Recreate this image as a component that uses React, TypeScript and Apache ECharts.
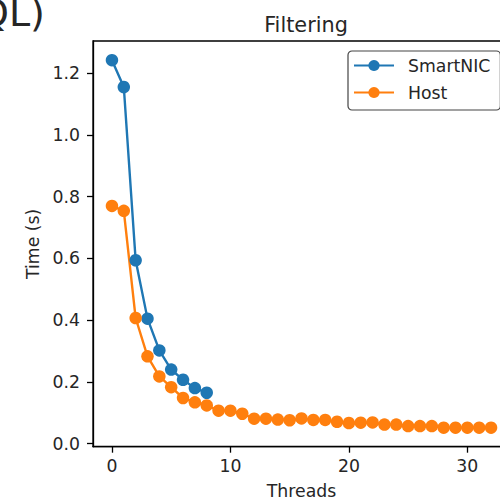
import React, { useEffect, useRef } from "react";
import * as echarts from "echarts";

const nicThreads = [0, 1, 2, 3, 4, 5, 6, 7, 8];
const nicTime = [1.242, 1.155, 0.594, 0.405, 0.302, 0.240, 0.207, 0.180, 0.165];

const hostThreads = [
  0, 1, 2, 3, 4, 5, 6, 7, 8, 9, 10, 11, 12, 13, 14, 15, 16, 17, 18, 19, 20,
  21, 22, 23, 24, 25, 26, 27, 28, 29, 30, 31, 32,
];
const hostTime = [
  0.770, 0.754, 0.407, 0.283, 0.218, 0.183, 0.148, 0.134, 0.124, 0.107, 0.107,
  0.097, 0.081, 0.081, 0.078, 0.076, 0.082, 0.077, 0.077, 0.071, 0.067, 0.068,
  0.069, 0.062, 0.062, 0.057, 0.057, 0.057, 0.052, 0.052, 0.052, 0.052, 0.052,
];

const xTicks = [0, 10, 20, 30];
const yTicks = [0, 0.2, 0.4, 0.6, 0.8, 1.0, 1.2];

const FONT = '"DejaVu Sans", "Noto Sans", sans-serif';
const TXT = "#262626";

export default function App() {
  const ref = useRef<HTMLDivElement>(null);
  useEffect(() => {
    if (!ref.current) return;
    const chart = echarts.init(ref.current, undefined, { renderer: "svg" });
    const option: any = {
      animation: false,
      backgroundColor: "#ffffff",
      textStyle: { fontFamily: FONT },
      title: {
        text: "Filtering",
        left: 301,
        top: 9,
        textAlign: "center",
        textStyle: { fontFamily: FONT, fontSize: 20.8, fontWeight: "normal", color: TXT },
      },
      graphic: [
        {
          type: "text",
          x: -21,
          y: 13,
          style: {
            text: "QL)",
            font: '38px "DejaVu Sans"',
            fill: TXT,
            verticalAlign: "middle",
          },
        },
      ],
      legend: {
        orient: "vertical",
        left: 348,
        top: 51,
        padding: [6, 10, 9, 5],
        itemWidth: 40,
        itemHeight: 14,
        itemGap: 10,
        backgroundColor: "#ffffff",
        borderColor: "#444444",
        borderWidth: 1.2,
        borderRadius: 4,
        textStyle: { fontFamily: FONT, fontSize: 17.3, color: TXT, padding: [0, 0, 0, 9] },
        data: ["SmartNIC", "Host"],
      },
      grid: {
        left: 93,
        top: 41,
        right: -10,
        bottom: 53.3,
        containLabel: false,
        outerBoundsMode: "none",
        show: true,
        borderColor: "#000000",
        borderWidth: 1.3,
        backgroundColor: "transparent",
      },
      xAxis: {
        type: "value",
        min: -1.6,
        max: 33.6,
        name: "Threads",
        nameLocation: "middle",
        nameGap: 36,
        nameTextStyle: { fontFamily: FONT, fontSize: 17.3, color: TXT },
        axisLine: { show: true, onZero: false, lineStyle: { color: "#000", width: 1.3 } },
        axisTick: { show: true, length: 6, customValues: xTicks, lineStyle: { color: "#000", width: 1.3 } },
        axisLabel: {
          customValues: xTicks,
          margin: 11,
          fontFamily: FONT,
          fontSize: 17.3,
          color: TXT,
        },
        splitLine: { show: false },
      },
      yAxis: {
        type: "value",
        min: -0.0097,
        max: 1.304,
        name: "Time (s)",
        nameLocation: "middle",
        nameGap: 52,
        nameTextStyle: { fontFamily: FONT, fontSize: 17.3, color: TXT },
        axisLine: { show: true, onZero: false, lineStyle: { color: "#000", width: 1.3 } },
        axisTick: { show: true, length: 6, customValues: yTicks, lineStyle: { color: "#000", width: 1.3 } },
        axisLabel: {
          customValues: yTicks,
          margin: 13,
          fontFamily: FONT,
          fontSize: 17.3,
          color: TXT,
          formatter: (v: number) => v.toFixed(1),
        },
        splitLine: { show: false },
      },
      series: [
        {
          name: "SmartNIC",
          type: "line",
          data: nicThreads.map((t, i) => [t, nicTime[i]]),
          symbol: "circle",
          symbolSize: 12.5,
          color: "#1f77b4",
          lineStyle: { width: 2.4, color: "#1f77b4" },
          itemStyle: { color: "#1f77b4" },
        },
        {
          name: "Host",
          type: "line",
          data: hostThreads.map((t, i) => [t, hostTime[i]]),
          symbol: "circle",
          symbolSize: 12.5,
          color: "#ff7f0e",
          lineStyle: { width: 2.4, color: "#ff7f0e" },
          itemStyle: { color: "#ff7f0e" },
        },
      ],
    };
    chart.setOption(option);
    return () => chart.dispose();
  }, []);
  return (
    <div
      ref={ref}
      style={{ position: "fixed", left: 0, top: 0, width: 500, height: 500, overflow: "hidden" }}
    />
  );
}
